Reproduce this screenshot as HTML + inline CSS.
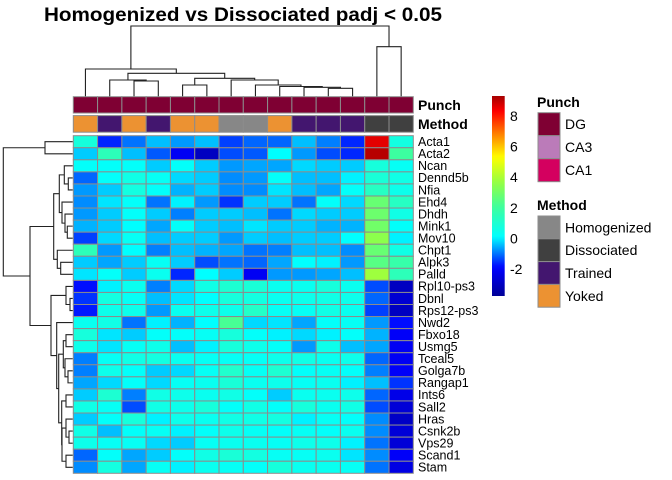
<!DOCTYPE html>
<html><head><meta charset="utf-8"><style>
html,body{margin:0;padding:0;background:#fff;}
svg{display:block;font-family:"Liberation Sans",Arial,sans-serif;}
</style></head><body>
<svg id="chart" width="672" height="480" viewBox="0 0 672 480">
<text x="243" y="21" text-anchor="middle" font-size="19.5" font-weight="bold" textLength="398" lengthAdjust="spacingAndGlyphs">Homogenized vs Dissociated padj &lt; 0.05</text>
<g id="coldend"></g>
<g id="rowdend"></g>
<g id="annot"></g>
<g id="cells"></g>
<g id="rowlabels"></g>
<text x="418" y="110" font-size="14" font-weight="bold">Punch</text>
<text x="418" y="129" font-size="14" font-weight="bold">Method</text>
<defs><linearGradient id="cbg" x1="0" y1="1" x2="0" y2="0"></linearGradient></defs>
<rect id="cbar" x="492" y="96" width="12.7" height="200" fill="url(#cbg)"/>
<g id="cbticks"></g>
<g id="legend"></g>
</svg>
<script>
const NS="http://www.w3.org/2000/svg";
const rowNames=["Acta1","Acta2","Ncan","Dennd5b","Nfia","Ehd4","Dhdh","Mink1","Mov10","Chpt1","Alpk3","Palld","Rpl10-ps3","Dbnl","Rps12-ps3","Nwd2","Fbxo18","Usmg5","Tceal5","Golga7b","Rangap1","Ints6","Sall2","Hras","Csnk2b","Vps29","Scand1","Stam"];
const punchCats=["DG","DG","DG","DG","DG","DG","DG","DG","DG","DG","DG","DG","DG","DG"];
const methodCats=["Yoked","Trained","Yoked","Trained","Yoked","Yoked","Homogenized","Homogenized","Yoked","Trained","Trained","Trained","Dissociated","Dissociated"];
const values=[
[0.8,-1.6,-1.0,-0.4,-0.7,-0.4,-1.4,-1.1,-1.1,-0.4,-0.9,-1.6,8.6,0.7],
[-0.3,1.5,-0.4,-1.2,-2.1,-3.0,-1.3,-1.2,0.1,-0.7,-1.3,-1.6,9.1,2.0],
[0.2,0.2,0.2,-0.3,0.2,-0.3,-0.7,-0.6,-0.6,-0.2,-0.3,-0.3,0.8,0.3],
[-1.1,0.2,0.6,0.3,-0.2,-0.3,-0.8,-0.7,0.2,-0.4,-0.4,0.0,0.9,0.6],
[-0.7,-0.3,0.7,0.2,-0.5,-0.3,-0.8,-0.8,-0.1,-0.4,-0.6,0.2,1.3,0.5],
[-0.8,-0.1,0.2,-1.0,0.0,-0.7,-1.5,-0.3,-0.3,-1.0,0.2,-0.2,2.8,1.3],
[-0.7,-0.3,0.2,-0.3,-0.9,-0.3,-0.3,-0.4,-1.0,-0.2,-0.3,-0.3,2.9,0.6],
[-0.5,-0.3,0.1,-0.6,0.2,-0.3,-0.4,-0.1,-0.3,-0.3,-0.5,-0.5,3.0,0.2],
[-1.4,-0.2,0.3,-0.4,-0.3,-0.3,-0.7,-0.3,-0.4,-0.3,-0.3,0.1,3.5,0.0],
[1.5,-0.7,0.1,-0.9,-0.4,-0.5,-0.6,-1.0,-0.9,-0.4,-0.4,-0.8,2.8,0.6],
[-0.3,-0.6,-0.3,0.3,-0.3,-1.3,-1.0,-1.1,-0.6,0.1,0.0,-0.7,2.5,1.8],
[-0.1,0.2,-0.3,0.4,-1.6,0.1,-0.3,-2.1,-0.7,-0.7,-0.6,-0.4,3.8,1.5],
[-1.8,0.0,0.4,-0.9,-0.2,0.6,1.0,0.9,0.4,0.4,0.8,0.4,-1.3,-3.0],
[-1.5,0.7,0.3,-0.4,-0.1,0.1,0.8,0.7,0.4,0.5,0.6,0.5,-1.1,-2.7],
[-1.7,0.5,0.5,-0.7,0.4,0.5,0.5,1.2,0.3,0.3,0.6,0.4,-1.4,-3.0],
[0.4,0.6,-1.0,0.0,-0.5,0.1,2.2,-0.2,-0.1,-0.6,0.2,0.3,-0.7,-1.8],
[0.8,-0.1,-0.3,0.2,0.2,0.3,0.8,0.2,0.0,-0.2,0.0,0.2,-0.5,-2.0],
[0.5,-0.1,0.3,0.5,-0.4,0.0,0.8,0.5,0.2,-0.7,0.5,-0.4,-0.6,-2.1],
[-0.9,0.3,0.6,0.7,0.4,0.3,0.3,0.3,0.5,0.6,0.4,0.5,-1.1,-2.1],
[-0.9,0.5,0.2,-0.3,-0.2,0.3,1.1,0.3,1.0,0.2,0.3,0.2,-0.9,-2.0],
[-0.6,-0.2,0.2,-0.2,0.3,0.4,0.9,0.4,0.5,0.3,0.4,0.0,-0.4,-1.5],
[-0.3,1.0,-0.9,0.6,0.5,0.4,0.6,0.2,-0.3,0.4,0.4,0.5,-1.1,-2.3],
[0.6,0.3,-1.3,0.6,0.5,0.8,0.2,0.6,0.2,0.8,0.4,0.6,-1.3,-2.6],
[-0.3,0.2,0.8,0.0,0.5,0.4,0.6,0.6,0.7,0.0,0.3,0.2,-0.8,-2.9],
[0.6,-0.4,0.2,0.3,0.0,0.2,0.5,0.3,0.2,0.3,0.2,0.4,-0.8,-2.6],
[0.5,0.3,0.3,-0.2,-0.3,0.3,0.4,0.4,0.3,0.5,0.5,0.0,-1.0,-2.6],
[-1.1,0.2,-0.6,-0.3,0.2,0.6,0.9,0.7,0.3,0.3,0.4,-0.1,-0.8,-2.0],
[-0.8,0.7,-0.6,0.3,0.0,0.4,0.3,0.2,0.8,0.4,0.4,0.3,-1.0,-2.4]];
const colorTicks=[-2,0,2,4,6,8];
const punchLevels=["DG","CA3","CA1"];
const methodLevels=["Homogenized","Dissociated","Trained","Yoked"];
const punchColors={DG:"#7f0033",CA3:"#bb7bb9",CA1:"#d4005f"};
const methodColors={Homogenized:"#878787",Dissociated:"#404040",Trained:"#43166f",Yoked:"#ec9232"};
// dendrogram topology: [left,right,mergeHeight]
const colTree=[[0,[[1,[2,3,81],80],[[4,5,85],[6,[7,[8,[9,[10,11,88.3],87.3],86.5],85],80],78.3],73.3],69],[12,13,46.7],26];
const rowTree=[[0,1,45],[[[[2,[3,4,68.3],64.3],[5,[6,[7,8,67.3],65],62],59.3],[9,[10,11,60.7],57.3],53.7],[[12,[13,14,70],66],[15,[[[16,17,66],[18,[19,20,68],65],63.3],[[21,22,66],[[23,[24,25,69],66],[26,27,66],62],61.7],58.7],56.7],51],30],3.3];

const X0=73.3,X1=413.3,Y0=135.7,Y1=473.3;
const nC=values[0].length,nR=values.length;
const cw=(X1-X0)/nC,rh=(Y1-Y0)/nR;
const xs=i=>X0+i*cw, ys=j=>Y0+j*rh;
const VMIN=-3.75,VMAX=9.3;
const stops=[[-3.75,[0,0,150]],[-1.9,[0,0,255]],[0.1,[0,255,255]],[2.0,[60,255,160]],[3.6,[145,255,70]],[5.3,[255,255,0]],[6.8,[255,130,0]],[8.3,[255,0,0]],[9.3,[165,0,0]]];
function col(v){
  if(v<=stops[0][0])return rgb(stops[0][1]);
  for(let k=1;k<stops.length;k++){if(v<=stops[k][0]){const a=stops[k-1],b=stops[k];const t=(v-a[0])/(b[0]-a[0]);return rgb(a[1].map((c,i)=>c+(b[1][i]-c)*t));}}
  return rgb(stops[stops.length-1][1]);
}
function rgb(c){return "rgb("+c.map(Math.round).join(",")+")";}
function mk(tag,attrs,parent){const e=document.createElementNS(NS,tag);for(const k in attrs)e.setAttribute(k,attrs[k]);parent.appendChild(e);return e;}

const cells=document.getElementById("cells");
for(let j=0;j<nR;j++)for(let i=0;i<nC;i++){
  const r=mk("rect",{x:xs(i),y:ys(j),width:cw,height:rh,fill:col(values[j][i]),stroke:"#8c8c8c","stroke-width":1},cells);
  
  
}
const rl=document.getElementById("rowlabels");
rowNames.forEach((n,j)=>{const t=mk("text",{x:418,y:ys(j)+rh/2+4.3,"font-size":12.5},rl);t.textContent=n;
  
  });
const an=document.getElementById("annot");
for(let i=0;i<nC;i++){
  const a=mk("rect",{x:xs(i),y:96.7,width:cw,height:16.3,fill:punchColors[punchCats[i]],stroke:"#8c8c8c","stroke-width":1},an);
  
  
  const b=mk("rect",{x:xs(i),y:115.6,width:cw,height:16.6,fill:methodColors[methodCats[i]],stroke:"#8c8c8c","stroke-width":1},an);
  
  
}
function drawTree(node,g,leafPos,base,horizontal){
  if(typeof node==="number")return {p:leafPos(node),h:base};
  const L=drawTree(node[0],g,leafPos,base,horizontal),R=drawTree(node[1],g,leafPos,base,horizontal),h=node[2];
  let d;
  if(!horizontal) d=`M${L.p},${L.h}V${h}H${R.p}V${R.h}`;
  else d=`M${L.h},${L.p}H${h}V${R.p}H${R.h}`;
  const p=mk("path",{d:d,fill:"none",stroke:"#222","stroke-width":1.1},g);
  
  
  return {p:(L.p+R.p)/2,h:h};
}
drawTree(colTree,document.getElementById("coldend"),i=>xs(i)+cw/2,96.5,false);
drawTree(rowTree,document.getElementById("rowdend"),j=>ys(j)+rh/2,72.8,true);
const cbTop=96,cbBot=296;
const cbY=v=>cbBot-(v-VMIN)/(VMAX-VMIN)*(cbBot-cbTop);
const grad=document.getElementById("cbg");
for(let k=0;k<=40;k++){const v=VMIN+(VMAX-VMIN)*k/40;mk("stop",{offset:(k/40),"stop-color":col(v)},grad);}
const cbt=document.getElementById("cbticks");
colorTicks.forEach(v=>{const t=mk("text",{x:510,y:cbY(v)+5,"font-size":14},cbt);t.textContent=String(v);
  
  });
const lg=document.getElementById("legend");
function legendGroup(title,levels,colors,ty,by,bh){
  const t=mk("text",{x:537,y:ty,"font-size":14,"font-weight":"bold"},lg);t.textContent=title;
  
  
  levels.forEach((l,k)=>{
    const r=mk("rect",{x:538,y:by+k*bh,width:22,height:bh,fill:colors[l],stroke:"#8c8c8c","stroke-width":1},lg);
    
    
    const s=mk("text",{x:565,y:by+k*bh+bh/2+5,"font-size":14},lg);s.textContent=l;
    
    
  });
}
legendGroup("Punch",punchLevels,punchColors,107,112.7,23);
legendGroup("Method",methodLevels,methodColors,210,216,22.8);
</script>
</body></html>
